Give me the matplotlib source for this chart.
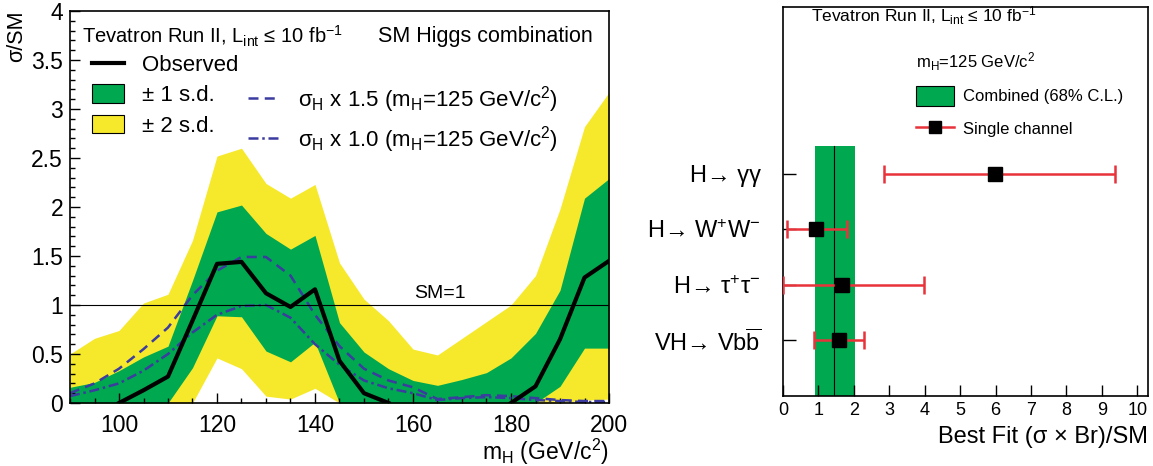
import numpy as np
import matplotlib
matplotlib.use("Agg")
import matplotlib.pyplot as plt
from matplotlib.lines import Line2D
from matplotlib.patches import Patch
from matplotlib.ticker import MultipleLocator, FuncFormatter

plt.rcParams['font.family'] = ['Liberation Sans', 'DejaVu Sans']
plt.rcParams['mathtext.fontset'] = 'custom'
plt.rcParams['mathtext.rm'] = 'Liberation Sans'
plt.rcParams['mathtext.it'] = 'Liberation Sans:italic'
plt.rcParams['mathtext.bf'] = 'Liberation Sans:bold'

GREEN = '#00a84f'
YELLOW = '#f6e92b'
BLUE = '#3b3ba0'
RED = '#e8333a'
nan = np.nan

# ----------------------------------------------------------------------------------------
# Left panel: sigma/SM vs Higgs mass.
# ----------------------------------------------------------------------------------------

mass = [90, 95, 100, 105, 110, 115, 120, 125, 130, 135, 140, 145,
        150, 155, 160, 165, 170, 175, 180, 185, 190, 195, 200]

observed = [nan, nan, 0.0, 0.13, 0.27, 0.84, 1.42, 1.44, 1.12, 0.98, 1.16, 0.43,
            0.10, 0.0, nan, nan, nan, nan, 0.0, 0.17, 0.65, 1.28, 1.45]

band2_hi = [0.50, 0.66, 0.74, 1.02, 1.11, 1.66, 2.52, 2.60, 2.24, 2.09, 2.23, 1.43,
            1.06, 0.84, 0.55, 0.49, 0.66, 0.83, 1.00, 1.30, 1.98, 2.82, 3.17]
band1_hi = [0.16, 0.21, 0.33, 0.47, 0.58, 1.25, 1.95, 2.02, 1.73, 1.57, 1.71, 0.82,
            0.52, 0.35, 0.23, 0.18, 0.24, 0.31, 0.46, 0.71, 1.15, 2.09, 2.29]
band1_lo = [0.0, 0.0, 0.0, 0.0, 0.0, 0.36, 0.89, 0.88, 0.53, 0.42, 0.62, 0.0,
            0.0, 0.0, 0.0, 0.0, 0.0, 0.0, 0.0, 0.0, 0.17, 0.56, 0.56]
band2_lo = [0.0, 0.0, 0.0, 0.0, 0.0, 0.0, 0.46, 0.35, 0.07, 0.04, 0.15, 0.0,
            0.0, 0.0, 0.0, 0.0, 0.0, 0.0, 0.0, 0.0, 0.0, 0.03, 0.04]

sig_x15 = [0.10, 0.20, 0.35, 0.55, 0.77, 1.10, 1.35, 1.49, 1.49, 1.30, 0.90, 0.58,
           0.35, 0.23, 0.16, 0.04, 0.06, 0.08, 0.07, 0.05, 0.03, 0.02, 0.02]
sig_x10 = [0.07, 0.13, 0.20, 0.33, 0.50, 0.72, 0.90, 0.99, 1.00, 0.87, 0.60, 0.39,
           0.23, 0.15, 0.10, 0.03, 0.05, 0.06, 0.05, 0.03, 0.02, 0.01, 0.01]

# ----------------------------------------------------------------------------------------
# Right panel: best fit per channel at mH = 125.
# ----------------------------------------------------------------------------------------

channels = ["H→ γγ", "H→ W$^{+}$W$^{-}$", "H→ τ$^{+}$τ$^{-}$",
            r"VH→ Vb$\overline{\mathrm{b}}$"]
fit = np.array([5.97, 0.94, 1.67, 1.59])
fit_lo = np.array([2.85, 0.11, 0.0, 0.87])
fit_hi = np.array([9.36, 1.81, 3.97, 2.29])
comb, comb_lo, comb_hi = 1.44, 0.89, 2.04

ypos = np.arange(len(channels), 0, -1)

fig = plt.figure(figsize=(11.53, 4.66), dpi=100)
ax1 = fig.add_axes([70 / 1153, 63 / 466, 539 / 1153, 392 / 466])
ax2 = fig.add_axes([783 / 1153, 70 / 466, 365 / 1153, 389 / 466])

# left
ax1.fill_between(mass, band2_lo, band2_hi, color=YELLOW, lw=0)
ax1.fill_between(mass, band1_lo, band1_hi, color=GREEN, lw=0)
ax1.plot(mass, sig_x15, color=BLUE, lw=1.8, ls=(0, (4, 2.5)))
ax1.plot(mass, sig_x10, color=BLUE, lw=1.8, ls=(0, (4, 1.5, 1, 1.5)))
ax1.axhline(1, color='black', lw=0.8)
ax1.plot(mass, observed, color='black', lw=3)
ax1.text(165.5, 1.03, "SM=1", ha='center', va='bottom', fontsize=14)

ax1.set_xlim(90, 200)
ax1.set_ylim(0, 4)
ax1.xaxis.set_major_locator(MultipleLocator(20))
ax1.xaxis.set_minor_locator(MultipleLocator(5))
ax1.yaxis.set_major_locator(MultipleLocator(0.5))
ax1.yaxis.set_minor_locator(MultipleLocator(0.1))
ax1.yaxis.set_major_formatter(FuncFormatter(lambda v, p: '%g' % v))
ax1.tick_params(which='both', direction='in', top=False, right=False, labelsize=16.5)
ax1.tick_params(which='major', length=7, width=1)
ax1.tick_params(which='minor', length=3.5, width=1)
ax1.tick_params(axis='x', pad=8)
ax1.tick_params(axis='y', pad=5)
for s in ax1.spines.values():
    s.set_linewidth(1.2)
ax1.set_xlabel(r"m$_{\rm H}$ (GeV/c$^{2}$)", loc='right', fontsize=16.5, labelpad=0)
ax1.set_ylabel("σ/SM", loc='top', fontsize=15.5, labelpad=3)

ax1.text(0.022, 0.935, r"Tevatron Run II, L$_{\rm int}$ ≤ 10 fb$^{-1}$",
         transform=ax1.transAxes, fontsize=14.5, va='center')
ax1.text(0.571, 0.935, "SM Higgs combination", transform=ax1.transAxes,
         fontsize=15.5, va='center')

handles = [
    Line2D([], [], color='black', lw=3),
    Patch(fc=GREEN, ec='black', lw=0.8),
    Patch(fc=YELLOW, ec='black', lw=0.8),
    Line2D([], [], alpha=0),
    Line2D([], [], color=BLUE, lw=1.8, ls=(0, (4, 2.5))),
    Line2D([], [], color=BLUE, lw=1.8, ls=(0, (4, 1.5, 1, 1.5))),
]
labels = ["Observed", "± 1 s.d.", "± 2 s.d.", "",
          r"σ$_{\rm H}$ x 1.5 (m$_{\rm H}$=125 GeV/c$^{2}$)",
          r"σ$_{\rm H}$ x 1.0 (m$_{\rm H}$=125 GeV/c$^{2}$)"]
ax1.legend(handles, labels, ncol=2, loc='upper left', bbox_to_anchor=(0.04, 0.89),
           frameon=False, fontsize=16, handlelength=1.45, handleheight=0.9,
           handletextpad=0.8, columnspacing=0.45, labelspacing=0.38,
           borderpad=0, borderaxespad=0)

# right
top = ypos.max() + 0.5
ax2.fill_betweenx([0, top], comb_lo, comb_hi, color=GREEN, lw=0)
ax2.plot([comb, comb], [0, top], color='black', lw=0.8)
ax2.errorbar(fit, ypos, xerr=[fit - fit_lo, fit_hi - fit], fmt='s', color=RED,
             mfc='black', mec='black', ms=10, capsize=6.8, elinewidth=1.8,
             capthick=1.8, zorder=5)

ax2.set_xlim(0, 10.3)
ax2.set_ylim(0, 7)
ax2.set_xticks(range(0, 11))
ax2.set_yticks(ypos)
ax2.set_yticklabels(channels, fontsize=17)
ax2.tick_params(axis='x', direction='in', length=8, width=1, labelsize=13, pad=4)
ax2.tick_params(axis='y', direction='in', length=9, width=1, pad=16)
for s in ax2.spines.values():
    s.set_linewidth(1.2)
ax2.set_xlabel("Best Fit (σ × Br)/SM", loc='right', fontsize=17, labelpad=5)

ax2.text(0.077, 0.977, r"Tevatron Run II, L$_{\rm int}$ ≤ 10 fb$^{-1}$",
         transform=ax2.transAxes, fontsize=12.5, va='center')
ax2.legend([Patch(fc=GREEN, ec='black', lw=0.8),
            Line2D([], [], color=RED, lw=1.8, marker='s', mfc='black', mec='black', ms=9)],
           ["Combined (68% C.L.)", "Single channel"],
           title=r"m$_{\rm H}$=125 GeV/c$^{2}$", title_fontsize=12, alignment='left',
           loc='upper left', bbox_to_anchor=((916 - 783) / 365, (396 - 50) / 389),
           frameon=False, fontsize=12, handlelength=2.3, handleheight=1.45,
           handletextpad=0.5, labelspacing=0.8, borderpad=0, borderaxespad=0)

fig.savefig("out.png", dpi=100)
